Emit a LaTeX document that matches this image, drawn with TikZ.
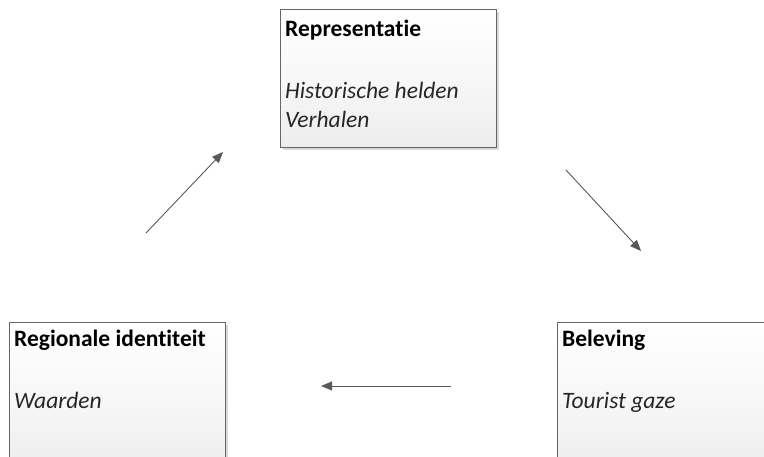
\documentclass[tikz,border=0pt]{standalone}
\usepackage{fontspec}
\setmainfont[RawFeature={-liga}]{Carlito}
\usetikzlibrary{arrows.meta,shadows}
\tikzset{
  box/.style={draw=black!60, line width=1pt, top color=white, bottom color=black!7, middle color=white!97!black,
    drop shadow={shadow xshift=2.5pt, shadow yshift=-2.5pt, fill=black!25, opacity=0.6}},
  title/.style={anchor=base west, inner sep=0pt, font=\fontsize{23.5}{28}\selectfont\bfseries},
  body/.style={anchor=base west, inner sep=0pt, font=\fontsize{23.5}{28}\selectfont\itshape, text=black!85},
  flow/.style={draw=black!65, line width=0.9pt, -{Triangle[length=11pt,width=9pt]}}
}
\begin{document}
\begin{tikzpicture}[x=1pt,y=-1pt]
\useasboundingbox (0,0) rectangle (764,456);
% boxes
\path[box] (280,9) rectangle (496,147);
\path[box] (9,322) rectangle (225,470);
\path[box] (557,322) rectangle (780,470);
% texts
\node[title] (t1) at (285,36) {Representatie};
\node[body] (b1) at (285,98) {Historische helden};
\node[body] (b1b) at (285,127) {Verhalen};
\node[title] (t2) at (14,346) {Regionale identiteit};
\node[body] (b2) at (14,408) {Waarden};
\node[title] (t3) at (562,346) {Beleving};
\node[body] (b3) at (562,408) {Tourist gaze};
% connectors
\coordinate (a1s) at (146,233); \coordinate (a1e) at (223,152);
\coordinate (a2s) at (566,170); \coordinate (a2e) at (641,251);
\coordinate (a3s) at (451,386); \coordinate (a3e) at (321,386);
\draw[flow] (a1s) -- (a1e);
\draw[flow] (a2s) -- (a2e);
\draw[flow] (a3s) -- (a3e);
\end{tikzpicture}
\end{document}
